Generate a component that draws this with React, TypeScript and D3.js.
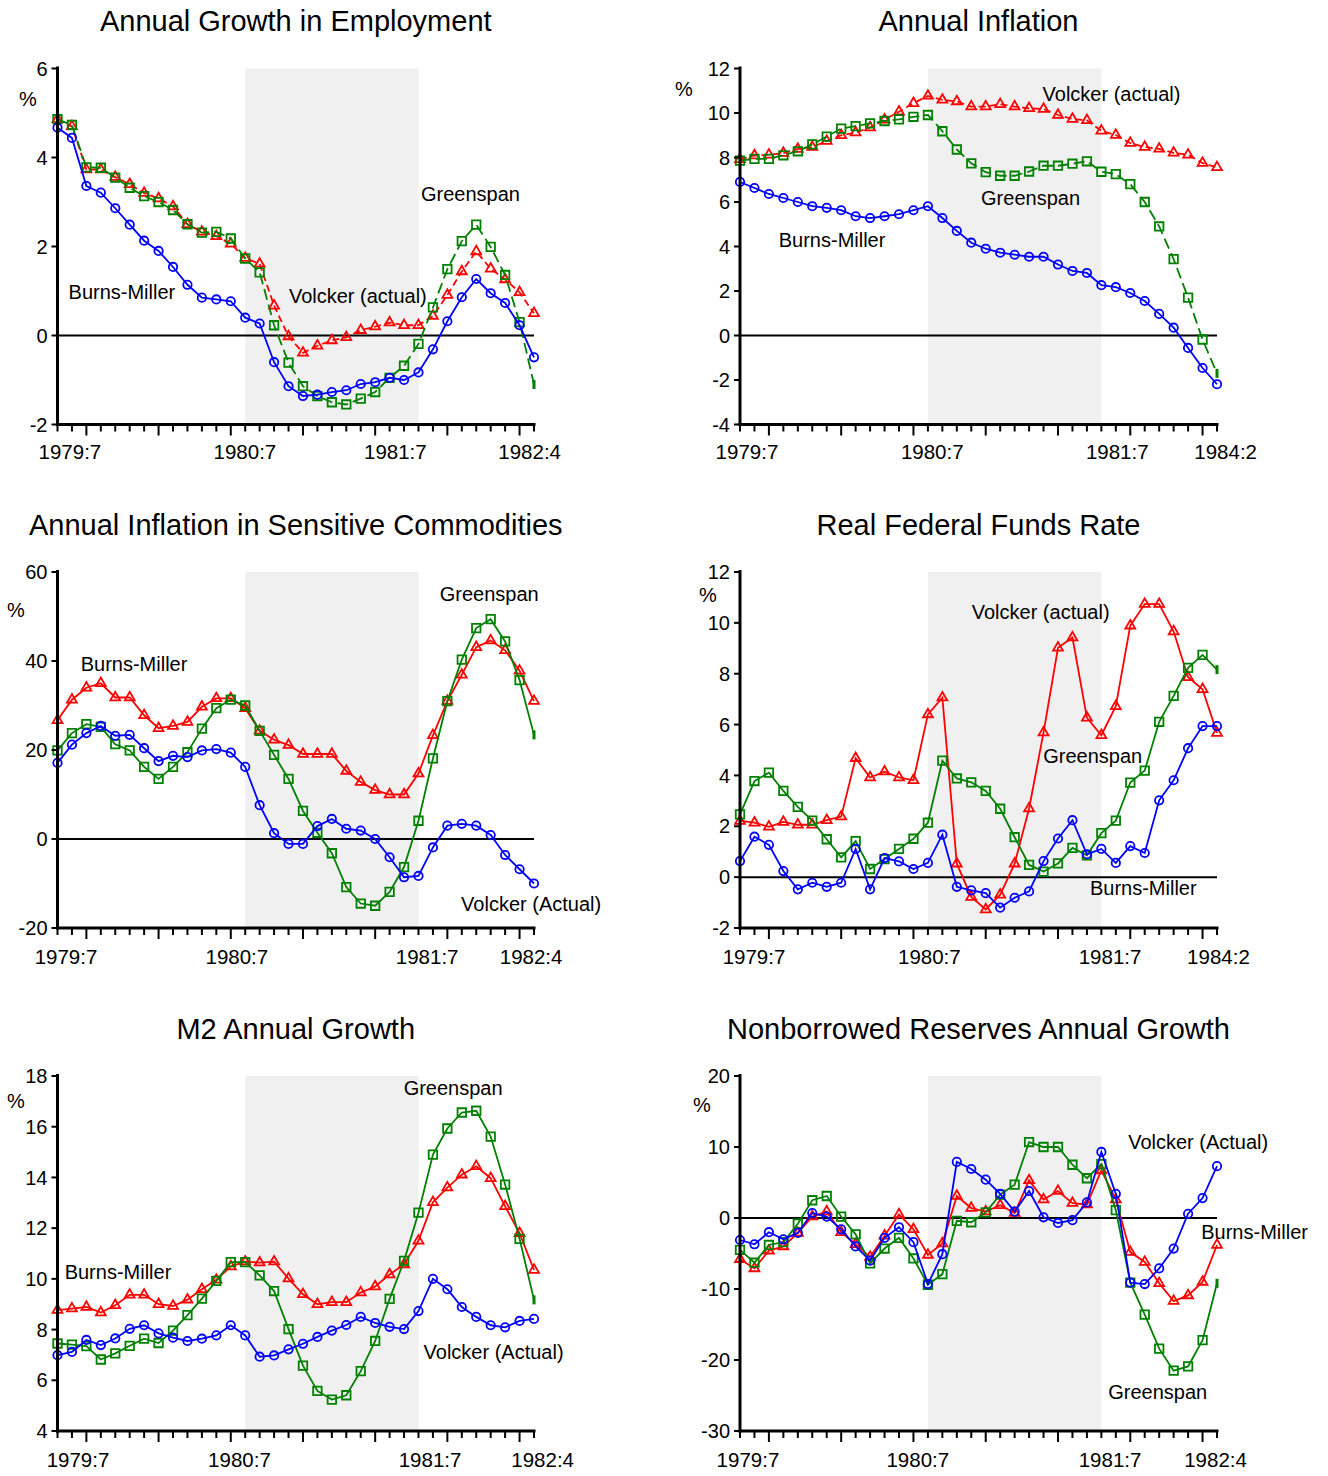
import React from 'react';
import * as d3 from 'd3';

// 34 periods on every panel, shaded window covers periods 13..25
const periods = d3.range(34);
const shadeFrom = 13;
const shadeTo = 25;

// --- Annual Growth in Employment ---
const empVolcker = [4.86, 4.70, 3.73, 3.73, 3.56, 3.40, 3.20, 3.08, 2.90, 2.50, 2.33, 2.23, 2.06, 1.74, 1.61, 0.67, -0.02, -0.39, -0.23, -0.11, -0.04, 0.12, 0.20, 0.29, 0.23, 0.23, 0.44, 0.91, 1.44, 1.89, 1.50, 1.26, 0.97, 0.50];
const empGreenspan = [4.86, 4.73, 3.78, 3.77, 3.55, 3.32, 3.13, 3.00, 2.82, 2.50, 2.31, 2.33, 2.18, 1.73, 1.42, 0.23, -0.61, -1.14, -1.36, -1.50, -1.55, -1.42, -1.27, -0.95, -0.68, -0.19, 0.63, 1.49, 2.12, 2.49, 1.99, 1.36, 0.30, -1.10];
const empBurns = [4.67, 4.44, 3.36, 3.21, 2.86, 2.49, 2.13, 1.90, 1.54, 1.14, 0.85, 0.81, 0.77, 0.40, 0.27, -0.60, -1.14, -1.36, -1.33, -1.27, -1.23, -1.09, -1.05, -0.95, -1.00, -0.83, -0.31, 0.32, 0.86, 1.27, 0.95, 0.73, 0.23, -0.49];

// --- Annual Inflation ---
const inflVolcker = [7.92, 8.09, 8.12, 8.20, 8.38, 8.47, 8.74, 9.00, 9.12, 9.35, 9.70, 10.06, 10.44, 10.77, 10.59, 10.52, 10.29, 10.29, 10.39, 10.29, 10.21, 10.18, 9.91, 9.73, 9.67, 9.20, 9.01, 8.65, 8.47, 8.39, 8.21, 8.12, 7.75, 7.56];
const inflGreenspan = [7.86, 7.94, 7.94, 8.10, 8.28, 8.59, 8.94, 9.30, 9.41, 9.53, 9.64, 9.71, 9.83, 9.91, 9.18, 8.36, 7.74, 7.34, 7.18, 7.18, 7.37, 7.63, 7.63, 7.72, 7.83, 7.36, 7.25, 6.80, 6.00, 4.90, 3.43, 1.70, -0.18, -1.70];
const inflBurns = [6.90, 6.63, 6.36, 6.18, 6.00, 5.81, 5.74, 5.63, 5.36, 5.28, 5.36, 5.45, 5.63, 5.81, 5.28, 4.70, 4.17, 3.90, 3.72, 3.63, 3.54, 3.54, 3.19, 2.90, 2.81, 2.26, 2.17, 1.91, 1.55, 0.97, 0.35, -0.56, -1.46, -2.19];

// --- Annual Inflation in Sensitive Commodities ---
const commVolcker = [26.7, 31.3, 34.0, 35.0, 31.8, 31.8, 27.8, 24.9, 25.4, 26.3, 29.7, 31.6, 31.6, 29.4, 24.3, 22.3, 21.1, 19.1, 19.1, 19.1, 15.3, 12.8, 11.0, 10.0, 10.0, 14.7, 23.3, 31.0, 36.9, 43.1, 44.6, 42.4, 37.8, 31.0];
const commGreenspan = [19.9, 23.8, 25.8, 25.2, 21.3, 19.9, 16.2, 13.5, 16.2, 19.5, 24.8, 29.4, 31.3, 30.0, 24.3, 18.9, 13.5, 6.3, 1.4, -3.2, -10.8, -14.5, -15.0, -11.9, -6.3, 4.1, 18.1, 31.0, 40.3, 47.4, 49.4, 44.4, 35.7, 23.4];
const commBurns = [17.1, 21.2, 23.8, 25.4, 23.2, 23.4, 20.4, 17.5, 18.7, 18.4, 19.9, 20.2, 19.4, 16.2, 7.6, 1.3, -1.1, -1.1, 2.9, 4.5, 2.3, 1.9, 0.0, -4.1, -8.6, -8.3, -1.9, 3.0, 3.4, 3.0, 0.9, -3.6, -6.8, -10.0];

// --- Real Federal Funds Rate ---
const ffVolcker = [2.21, 2.14, 1.98, 2.17, 2.06, 2.06, 2.24, 2.38, 4.68, 3.92, 4.15, 3.92, 3.81, 6.40, 7.06, 0.53, -0.78, -1.27, -0.69, 0.53, 2.70, 5.69, 9.02, 9.42, 6.27, 5.58, 6.72, 9.89, 10.74, 10.74, 9.66, 7.86, 7.39, 5.67];
const ffGreenspan = [2.47, 3.78, 4.11, 3.39, 2.76, 2.22, 1.49, 0.78, 1.42, 0.32, 0.71, 1.11, 1.51, 2.14, 4.58, 3.88, 3.73, 3.39, 2.69, 1.57, 0.48, 0.22, 0.54, 1.15, 0.86, 1.73, 2.22, 3.72, 4.19, 6.11, 7.13, 8.23, 8.74, 8.16];
const ffBurns = [0.63, 1.59, 1.27, 0.24, -0.48, -0.22, -0.38, -0.22, 1.11, -0.48, 0.75, 0.62, 0.32, 0.56, 1.67, -0.38, -0.52, -0.63, -1.20, -0.81, -0.56, 0.63, 1.52, 2.24, 0.90, 1.11, 0.56, 1.22, 0.95, 3.02, 3.81, 5.07, 5.94, 5.94];

// --- M2 Annual Growth ---
const m2Volcker = [8.77, 8.83, 8.89, 8.67, 8.96, 9.37, 9.37, 9.00, 8.93, 9.18, 9.59, 9.96, 10.49, 10.68, 10.64, 10.68, 10.01, 9.39, 9.00, 9.08, 9.08, 9.46, 9.70, 10.17, 10.57, 11.50, 13.02, 13.60, 14.11, 14.44, 13.97, 12.86, 11.80, 10.35];
const m2Greenspan = [7.45, 7.41, 7.35, 6.82, 7.06, 7.36, 7.64, 7.47, 7.96, 8.57, 9.22, 9.92, 10.66, 10.66, 10.14, 9.52, 8.02, 6.58, 5.58, 5.24, 5.41, 6.36, 7.55, 9.21, 10.71, 12.61, 14.90, 15.93, 16.56, 16.63, 15.61, 13.72, 11.58, 9.17];
const m2Burns = [6.99, 7.12, 7.59, 7.39, 7.65, 8.03, 8.17, 7.85, 7.68, 7.55, 7.64, 7.77, 8.17, 7.77, 6.93, 6.98, 7.22, 7.44, 7.71, 7.96, 8.18, 8.50, 8.26, 8.11, 8.02, 8.73, 10.00, 9.59, 8.89, 8.50, 8.17, 8.09, 8.34, 8.42];

// --- Nonborrowed Reserves Annual Growth ---
const nbrVolcker = [-5.8, -7.1, -4.6, -4.0, -2.1, 0.2, 0.9, -2.0, -3.7, -5.5, -2.5, 0.5, -1.6, -5.2, -3.6, 3.1, 1.4, 0.9, 1.8, 0.7, 5.3, 2.6, 3.8, 2.1, 1.9, 6.7, 2.6, -4.8, -6.2, -9.2, -11.7, -10.9, -9.0, -3.8];
const nbrGreenspan = [-4.5, -6.3, -3.8, -3.4, -0.8, 2.5, 3.1, 0.2, -2.3, -6.4, -4.3, -2.8, -5.7, -9.4, -7.9, -0.4, -0.6, 0.8, 3.3, 4.7, 10.7, 10.0, 10.0, 7.5, 5.6, 7.6, 1.1, -9.1, -13.6, -18.4, -21.5, -20.9, -17.2, -9.2];
const nbrBurns = [-3.1, -3.7, -2.0, -3.0, -2.1, 0.7, 0.2, -1.6, -4.0, -6.0, -2.8, -1.3, -3.4, -9.3, -5.1, 7.9, 6.9, 5.4, 3.4, 0.9, 3.8, 0.1, -0.7, -0.3, 2.2, 9.3, 3.4, -9.1, -9.3, -7.1, -4.3, 0.6, 2.8, 7.3];

const RED = '#ff0000';
const GREEN = '#008000';
const BLUE = '#0000ff';
const FONT = '"Liberation Sans", Arial, sans-serif';

type Note = { text: string; at: number; v: number };
type XLabel = { text: string; at: number };

interface PanelProps {
  title: string;
  col: number;
  row: number;
  domain: [number, number];
  yTicks: number[];
  xLabels: XLabel[];
  red: number[];
  green: number[];
  blue: number[];
  dashed?: boolean;
  notes: Note[];
  pct: [number, number];
}

const COLS = [{ left: 57.5, right: 534 }, { left: 740, right: 1217 }];
const ROWS = [
  { top: 68.5, bottom: 424.5, titleY: 31, labelDy: 34 },
  { top: 572, bottom: 928, titleY: 535, labelDy: 36 },
  { top: 1076, bottom: 1431, titleY: 1039, labelDy: 36 },
];

const triPath = d3.symbol().type(d3.symbolTriangle).size(42)() as string;
const sqPath = d3.symbol().type(d3.symbolSquare).size(72)() as string;

const Panel: React.FC<PanelProps> = ({ title, col, row, domain, yTicks, xLabels, red, green, blue, dashed, notes, pct }) => {
  const { left, right } = COLS[col];
  const { top, bottom, titleY, labelDy } = ROWS[row];
  const x = d3.scaleLinear().domain([0, 33]).range([left, right]);
  const y = d3.scaleLinear().domain(domain).range([bottom, top]);
  const line = d3.line<number>().x((_, i) => x(periods[i])).y(v => y(v));

  const marker = (shape: string, color: string, v: number, i: number, last: boolean) => {
    const cx = x(periods[i]);
    const cy = y(v);
    if (shape === 'circ') {
      return <circle key={i} cx={cx} cy={cy} r={4.2} fill="none" stroke={color} strokeWidth={1.8} />;
    }
    if (shape === 'sq' && last) {
      return <rect key={i} x={cx - 1.5} y={cy - 4.5} width={3} height={9} fill={color} />;
    }
    return (
      <path key={i} d={shape === 'tri' ? triPath : sqPath} transform={`translate(${cx},${cy})`}
        fill="none" stroke={color} strokeWidth={1.8} />
    );
  };

  const series = [
    { data: red, color: RED, shape: 'tri', dash: dashed ? '7,4' : undefined },
    { data: green, color: GREEN, shape: 'sq', dash: dashed ? '11,5' : undefined },
    { data: blue, color: BLUE, shape: 'circ', dash: undefined },
  ];

  return (
    <g>
      <text x={(left + right) / 2} y={titleY} textAnchor="middle" fontSize={29} fontFamily={FONT}>{title}</text>
      <rect x={x(shadeFrom)} y={top} width={x(shadeTo) - x(shadeFrom)} height={bottom - top} fill="#f0f0f0" />
      <line x1={left} x2={x(33)} y1={y(0)} y2={y(0)} stroke="#000" strokeWidth={2} />
      {series.map((s, k) => (
        <g key={k}>
          <path d={line(s.data) as string} fill="none" stroke={s.color} strokeWidth={1.8} strokeDasharray={s.dash} />
          {s.data.map((v, i) => marker(s.shape, s.color, v, i, i === s.data.length - 1))}
        </g>
      ))}
      {/* y axis */}
      <line x1={left} x2={left} y1={top - 2} y2={bottom + 1.5} stroke="#000" strokeWidth={3} />
      {yTicks.map(t => (
        <g key={t}>
          <line x1={left - 6} x2={left} y1={y(t)} y2={y(t)} stroke="#000" strokeWidth={2} />
          <text x={left - 10} y={y(t)} dy="0.36em" textAnchor="end" fontSize={20} fontFamily={FONT}>{t}</text>
        </g>
      ))}
      <text x={left + pct[0]} y={top + pct[1]} dy="0.36em" textAnchor="middle" fontSize={20} fontFamily={FONT}>%</text>
      {/* x axis */}
      <line x1={left - 1.5} x2={x(33) + 1.5} y1={bottom} y2={bottom} stroke="#000" strokeWidth={3} />
      {periods.map(p => (
        <line key={p} x1={x(p)} x2={x(p)} y1={bottom} y2={bottom + ((p - 2) % 5 === 0 ? 11 : 7)} stroke="#000" strokeWidth={2} />
      ))}
      {xLabels.map(l => (
        <text key={l.text} x={x(l.at)} y={bottom + labelDy} textAnchor="middle" fontSize={20.5} fontFamily={FONT}>{l.text}</text>
      ))}
      {notes.map(n => (
        <text key={n.text} x={x(n.at)} y={y(n.v)} dy="0.36em" textAnchor="middle" fontSize={20} fontFamily={FONT}>{n.text}</text>
      ))}
    </g>
  );
};

const App: React.FC = () => (
  <div style={{ position: 'absolute', left: 0, top: 0 }}>
    <svg width={1328} height={1476} style={{ display: 'block', background: '#fff' }}>
      <Panel title="Annual Growth in Employment" col={0} row={0} domain={[-2, 6]} yTicks={[-2, 0, 2, 4, 6]}
        xLabels={[{ text: '1979:7', at: 0.86 }, { text: '1980:7', at: 12.98 }, { text: '1981:7', at: 23.4 }, { text: '1982:4', at: 32.7 }]}
        red={empVolcker} green={empGreenspan} blue={empBurns} dashed
        notes={[{ text: 'Greenspan', at: 28.6, v: 3.18 }, { text: 'Burns-Miller', at: 4.46, v: 0.98 }, { text: 'Volcker (actual)', at: 20.8, v: 0.9 }]}
        pct={[-29.5, 30.5]} />
      <Panel title="Annual Inflation" col={1} row={0} domain={[-4, 12]} yTicks={[-4, -2, 0, 2, 4, 6, 8, 10, 12]}
        xLabels={[{ text: '1979:7', at: 0.48 }, { text: '1980:7', at: 13.3 }, { text: '1981:7', at: 26.1 }, { text: '1984:2', at: 33.6 }]}
        red={inflVolcker} green={inflGreenspan} blue={inflBurns} dashed
        notes={[{ text: 'Volcker (actual)', at: 25.7, v: 10.85 }, { text: 'Greenspan', at: 20.1, v: 6.18 }, { text: 'Burns-Miller', at: 6.37, v: 4.29 }]}
        pct={[-56, 20.5]} />
      <Panel title="Annual Inflation in Sensitive Commodities" col={0} row={1} domain={[-20, 60]} yTicks={[-20, 0, 20, 40, 60]}
        xLabels={[{ text: '1979:7', at: 0.59 }, { text: '1980:7', at: 12.42 }, { text: '1981:7', at: 25.6 }, { text: '1982:4', at: 32.8 }]}
        red={commVolcker} green={commGreenspan} blue={commBurns}
        notes={[{ text: 'Greenspan', at: 29.9, v: 55.06 }, { text: 'Burns-Miller', at: 5.3, v: 39.3 }, { text: 'Volcker (Actual)', at: 32.8, v: -14.6 }]}
        pct={[-41.5, 38]} />
      <Panel title="Real Federal Funds Rate" col={1} row={1} domain={[-2, 12]} yTicks={[-2, 0, 2, 4, 6, 8, 10, 12]}
        xLabels={[{ text: '1979:7', at: 0.97 }, { text: '1980:7', at: 13.1 }, { text: '1981:7', at: 25.6 }, { text: '1984:2', at: 33.1 }]}
        red={ffVolcker} green={ffGreenspan} blue={ffBurns}
        notes={[{ text: 'Volcker (actual)', at: 20.8, v: 10.43 }, { text: 'Greenspan', at: 24.4, v: 4.76 }, { text: 'Burns-Miller', at: 27.9, v: -0.43 }]}
        pct={[-32, 23]} />
      <Panel title="M2 Annual Growth" col={0} row={2} domain={[4, 18]} yTicks={[4, 6, 8, 10, 12, 14, 16, 18]}
        xLabels={[{ text: '1979:7', at: 1.42 }, { text: '1980:7', at: 12.6 }, { text: '1981:7', at: 25.8 }, { text: '1982:4', at: 33.6 }]}
        red={m2Volcker} green={m2Greenspan} blue={m2Burns}
        notes={[{ text: 'Greenspan', at: 27.4, v: 17.53 }, { text: 'Burns-Miller', at: 4.19, v: 10.27 }, { text: 'Volcker (Actual)', at: 30.2, v: 7.12 }]}
        pct={[-41.5, 25]} />
      <Panel title="Nonborrowed Reserves Annual Growth" col={1} row={2} domain={[-30, 20]} yTicks={[-30, -20, -10, 0, 10, 20]}
        xLabels={[{ text: '1979:7', at: 0.55 }, { text: '1980:7', at: 12.3 }, { text: '1981:7', at: 25.6 }, { text: '1982:4', at: 32.9 }]}
        red={nbrVolcker} green={nbrGreenspan} blue={nbrBurns}
        notes={[{ text: 'Volcker (Actual)', at: 31.7, v: 10.7 }, { text: 'Burns-Miller', at: 35.6, v: -1.97 }, { text: 'Greenspan', at: 28.9, v: -24.5 }]}
        pct={[-38, 29]} />
    </svg>
  </div>
);

export default App;
